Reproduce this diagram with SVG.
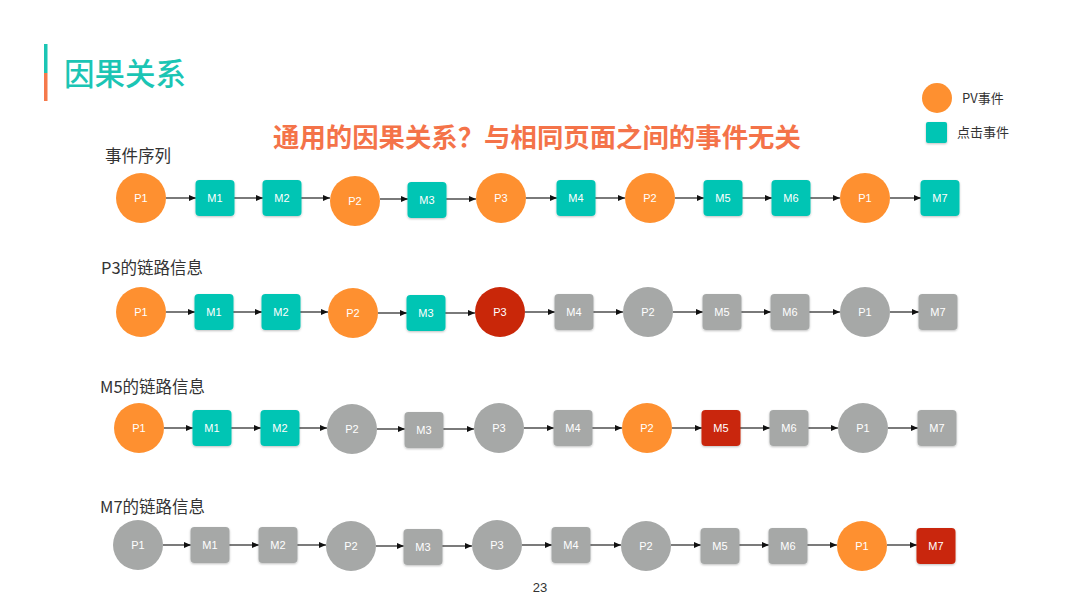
<svg xmlns="http://www.w3.org/2000/svg" width="1080" height="608" viewBox="0 0 1080 608">
<style>
.o{fill:#FE9030}
.t{fill:#00C5B4}
.g{fill:#A6A8A7}
.r{fill:#C92709}
.nl{font-family:"Liberation Sans",Arial,sans-serif;font-size:11px;fill:#fff;text-anchor:middle;dominant-baseline:central}
.lbl{font-family:"Noto Sans CJK SC","Liberation Sans",sans-serif;font-size:16.5px;fill:#333}
.lg{font-family:"Noto Sans CJK SC","Liberation Sans",sans-serif;font-size:13px;fill:#333}
.cn line{stroke:#222;stroke-width:1.2;marker-end:url(#ah)}
rect.n{filter:url(#sh)}
</style>
<defs>
<marker id="ah" markerUnits="userSpaceOnUse" markerWidth="8" markerHeight="6" refX="7" refY="3" orient="auto"><path d="M0,0 L7,3 L0,6 z" fill="#111"/></marker>
<filter id="sh" x="-20%" y="-20%" width="140%" height="150%"><feDropShadow dx="0" dy="1" stdDeviation="1" flood-color="#000" flood-opacity="0.25"/></filter>
</defs>
<rect width="1080" height="608" fill="#fff"/>
<g id="header">
<rect x="44" y="44" width="3.5" height="29" fill="#1BC5B4"/>
<rect x="44" y="73" width="3.5" height="28" fill="#F5794B"/>
<text x="64" y="85" font-family="'Noto Sans CJK SC',sans-serif" font-size="30.5" font-weight="500" fill="#1BC5B4">因果关系</text>
<text x="273" y="147" font-family="'Noto Sans CJK SC',sans-serif" font-size="26.4" font-weight="700" fill="#F47349">通用的因果关系？与相同页面之间的事件无关</text>
<text x="540" y="592" font-family="'Liberation Sans',Arial,sans-serif" font-size="13" fill="#333" text-anchor="middle">23</text>
</g>
<g id="legend">
<circle cx="937" cy="98" r="15" class="o"/>
<text x="962" y="103" class="lg">PV事件</text>
<rect x="926" y="122" width="21" height="21" rx="2" class="t n"/>
<text x="957" y="137" class="lg">点击事件</text>
</g>
<g id="labels">
<text x="105" y="162" class="lbl">事件序列</text>
<text x="101" y="274" class="lbl">P3的链路信息</text>
<text x="100" y="393" class="lbl">M5的链路信息</text>
<text x="100" y="513" class="lbl">M7的链路信息</text>
</g>
<g id="connectors" class="cn">
<line x1="166" y1="198" x2="196" y2="198"/><line x1="234" y1="198" x2="263" y2="198"/><line x1="301" y1="198" x2="330" y2="198"/><line x1="380" y1="199" x2="408" y2="199"/><line x1="446" y1="199" x2="476" y2="199"/><line x1="526" y1="198" x2="557" y2="198"/><line x1="595" y1="198" x2="625" y2="198"/><line x1="675" y1="198" x2="704" y2="198"/><line x1="742" y1="198" x2="772" y2="198"/><line x1="810" y1="198" x2="840" y2="198"/><line x1="890" y1="198" x2="921" y2="198"/>
<line x1="166" y1="312" x2="195" y2="312"/><line x1="233" y1="312" x2="262" y2="312"/><line x1="300" y1="312" x2="328" y2="312"/><line x1="378" y1="313" x2="407" y2="313"/><line x1="445" y1="313" x2="475" y2="313"/><line x1="525" y1="312" x2="555" y2="312"/><line x1="593" y1="312" x2="623" y2="312"/><line x1="673" y1="312" x2="703" y2="312"/><line x1="741" y1="312" x2="771" y2="312"/><line x1="809" y1="312" x2="840" y2="312"/><line x1="890" y1="312" x2="919" y2="312"/>
<line x1="164" y1="428" x2="193" y2="428"/><line x1="231" y1="428" x2="261" y2="428"/><line x1="299" y1="428" x2="327" y2="428"/><line x1="377" y1="429" x2="405" y2="429"/><line x1="443" y1="429" x2="474" y2="429"/><line x1="524" y1="428" x2="554" y2="428"/><line x1="592" y1="428" x2="622" y2="428"/><line x1="672" y1="428" x2="702" y2="428"/><line x1="740" y1="428" x2="770" y2="428"/><line x1="808" y1="428" x2="838" y2="428"/><line x1="888" y1="428" x2="918" y2="428"/>
<line x1="163" y1="545" x2="191" y2="545"/><line x1="229" y1="545" x2="259" y2="545"/><line x1="297" y1="545" x2="326" y2="545"/><line x1="376" y1="546" x2="404" y2="546"/><line x1="442" y1="546" x2="472" y2="546"/><line x1="522" y1="545" x2="552" y2="545"/><line x1="590" y1="545" x2="621" y2="545"/><line x1="671" y1="545" x2="701" y2="545"/><line x1="739" y1="545" x2="769" y2="545"/><line x1="807" y1="545" x2="837" y2="545"/><line x1="887" y1="545" x2="917" y2="545"/>
</g>
<!-- Row 1 -->
<g id="r1-p1"><circle cx="141" cy="198" r="25" class="o"/><text x="141" y="198" class="nl">P1</text></g>
<g id="r1-m1"><rect x="195.5" y="180" width="39" height="36" rx="4" class="t n"/><text x="215" y="198" class="nl">M1</text></g>
<g id="r1-m2"><rect x="262.5" y="180" width="39" height="36" rx="4" class="t n"/><text x="282" y="198" class="nl">M2</text></g>
<g id="r1-p2"><circle cx="355" cy="201" r="25" class="o"/><text x="355" y="201" class="nl">P2</text></g>
<g id="r1-m3"><rect x="407.5" y="182" width="39" height="36" rx="4" class="t n"/><text x="427" y="200" class="nl">M3</text></g>
<g id="r1-p3"><circle cx="501" cy="198" r="25" class="o"/><text x="501" y="198" class="nl">P3</text></g>
<g id="r1-m4"><rect x="556.5" y="180" width="39" height="36" rx="4" class="t n"/><text x="576" y="198" class="nl">M4</text></g>
<g id="r1-p2b"><circle cx="650" cy="198" r="25" class="o"/><text x="650" y="198" class="nl">P2</text></g>
<g id="r1-m5"><rect x="703.5" y="180" width="39" height="36" rx="4" class="t n"/><text x="723" y="198" class="nl">M5</text></g>
<g id="r1-m6"><rect x="771.5" y="180" width="39" height="36" rx="4" class="t n"/><text x="791" y="198" class="nl">M6</text></g>
<g id="r1-p1b"><circle cx="865" cy="198" r="25" class="o"/><text x="865" y="198" class="nl">P1</text></g>
<g id="r1-m7"><rect x="920.5" y="180" width="39" height="36" rx="4" class="t n"/><text x="940" y="198" class="nl">M7</text></g>
<!-- Row 2 -->
<g id="r2-p1"><circle cx="141" cy="312" r="25" class="o"/><text x="141" y="312" class="nl">P1</text></g>
<g id="r2-m1"><rect x="194.5" y="294" width="39" height="36" rx="4" class="t n"/><text x="214" y="312" class="nl">M1</text></g>
<g id="r2-m2"><rect x="261.5" y="294" width="39" height="36" rx="4" class="t n"/><text x="281" y="312" class="nl">M2</text></g>
<g id="r2-p2"><circle cx="353" cy="313" r="25" class="o"/><text x="353" y="313" class="nl">P2</text></g>
<g id="r2-m3"><rect x="406.5" y="295" width="39" height="36" rx="4" class="t n"/><text x="426" y="313" class="nl">M3</text></g>
<g id="r2-p3"><circle cx="500" cy="312" r="25" class="r"/><text x="500" y="312" class="nl">P3</text></g>
<g id="r2-m4"><rect x="554.5" y="294" width="39" height="36" rx="4" class="g n"/><text x="574" y="312" class="nl">M4</text></g>
<g id="r2-p2b"><circle cx="648" cy="312" r="25" class="g"/><text x="648" y="312" class="nl">P2</text></g>
<g id="r2-m5"><rect x="702.5" y="294" width="39" height="36" rx="4" class="g n"/><text x="722" y="312" class="nl">M5</text></g>
<g id="r2-m6"><rect x="770.5" y="294" width="39" height="36" rx="4" class="g n"/><text x="790" y="312" class="nl">M6</text></g>
<g id="r2-p1b"><circle cx="865" cy="312" r="25" class="g"/><text x="865" y="312" class="nl">P1</text></g>
<g id="r2-m7"><rect x="918.5" y="294" width="39" height="36" rx="4" class="g n"/><text x="938" y="312" class="nl">M7</text></g>
<!-- Row 3 -->
<g id="r3-p1"><circle cx="139" cy="428" r="25" class="o"/><text x="139" y="428" class="nl">P1</text></g>
<g id="r3-m1"><rect x="192.5" y="410" width="39" height="36" rx="4" class="t n"/><text x="212" y="428" class="nl">M1</text></g>
<g id="r3-m2"><rect x="260.5" y="410" width="39" height="36" rx="4" class="t n"/><text x="280" y="428" class="nl">M2</text></g>
<g id="r3-p2"><circle cx="352" cy="429" r="25" class="g"/><text x="352" y="429" class="nl">P2</text></g>
<g id="r3-m3"><rect x="404.5" y="412" width="39" height="36" rx="4" class="g n"/><text x="424" y="430" class="nl">M3</text></g>
<g id="r3-p3"><circle cx="499" cy="428" r="25" class="g"/><text x="499" y="428" class="nl">P3</text></g>
<g id="r3-m4"><rect x="553.5" y="410" width="39" height="36" rx="4" class="g n"/><text x="573" y="428" class="nl">M4</text></g>
<g id="r3-p2b"><circle cx="647" cy="428" r="25" class="o"/><text x="647" y="428" class="nl">P2</text></g>
<g id="r3-m5"><rect x="701.5" y="410" width="39" height="36" rx="4" class="r n"/><text x="721" y="428" class="nl">M5</text></g>
<g id="r3-m6"><rect x="769.5" y="410" width="39" height="36" rx="4" class="g n"/><text x="789" y="428" class="nl">M6</text></g>
<g id="r3-p1b"><circle cx="863" cy="428" r="25" class="g"/><text x="863" y="428" class="nl">P1</text></g>
<g id="r3-m7"><rect x="917.5" y="410" width="39" height="36" rx="4" class="g n"/><text x="937" y="428" class="nl">M7</text></g>
<!-- Row 4 -->
<g id="r4-p1"><circle cx="138" cy="545" r="25" class="g"/><text x="138" y="545" class="nl">P1</text></g>
<g id="r4-m1"><rect x="190.5" y="527" width="39" height="36" rx="4" class="g n"/><text x="210" y="545" class="nl">M1</text></g>
<g id="r4-m2"><rect x="258.5" y="527" width="39" height="36" rx="4" class="g n"/><text x="278" y="545" class="nl">M2</text></g>
<g id="r4-p2"><circle cx="351" cy="546" r="25" class="g"/><text x="351" y="546" class="nl">P2</text></g>
<g id="r4-m3"><rect x="403.5" y="529" width="39" height="36" rx="4" class="g n"/><text x="423" y="547" class="nl">M3</text></g>
<g id="r4-p3"><circle cx="497" cy="545" r="25" class="g"/><text x="497" y="545" class="nl">P3</text></g>
<g id="r4-m4"><rect x="551.5" y="527" width="39" height="36" rx="4" class="g n"/><text x="571" y="545" class="nl">M4</text></g>
<g id="r4-p2b"><circle cx="646" cy="546" r="25" class="g"/><text x="646" y="546" class="nl">P2</text></g>
<g id="r4-m5"><rect x="700.5" y="528" width="39" height="36" rx="4" class="g n"/><text x="720" y="546" class="nl">M5</text></g>
<g id="r4-m6"><rect x="768.5" y="528" width="39" height="36" rx="4" class="g n"/><text x="788" y="546" class="nl">M6</text></g>
<g id="r4-p1b"><circle cx="862" cy="546" r="25" class="o"/><text x="862" y="546" class="nl">P1</text></g>
<g id="r4-m7"><rect x="916.5" y="528" width="39" height="36" rx="4" class="r n"/><text x="936" y="546" class="nl">M7</text></g>
</svg>
